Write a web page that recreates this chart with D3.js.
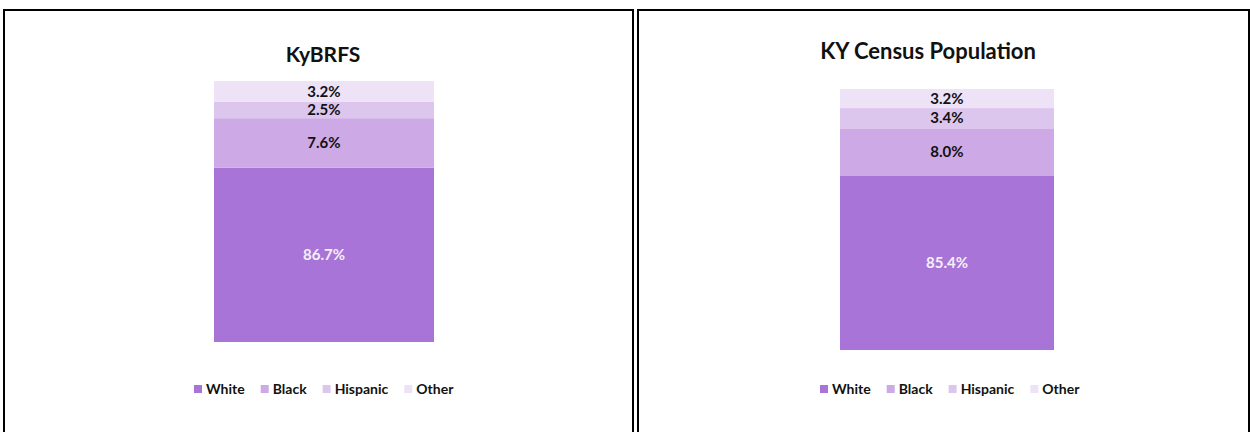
<!DOCTYPE html>
<html>
<head>
<meta charset="utf-8">
<script src="https://cdn.jsdelivr.net/npm/d3@7"></script>
<style>
  body { margin: 0; background: #fff; }
  text { font-family: Lato, "Open Sans", sans-serif; font-weight: bold; }
</style>
</head>
<body>
<div class="container"></div>
<script>
const WIDTH = 1250;
const HEIGHT = 432;

// data (stack order bottom -> top)
var categories = ["White", "Black", "Hispanic", "Other"];
var kybrfsValues = [86.7, 7.6, 2.5, 3.2];
var censusValues = [85.4, 8.0, 3.4, 3.2];
var chartTitles = ["KyBRFS", "KY Census Population"];

var colors = ["#a974d7", "#cda9e6", "#dcc6ee", "#ede2f6"];
var labelColors = ["#f4f0f8", "#111", "#111", "#111"];

var svg = d3.select(".container")
    .append("svg")
    .attr("width", WIDTH)
    .attr("height", HEIGHT);

var panels = [
    { title: chartTitles[0], values: kybrfsValues, box: [4, 10, 633, 440], titleX: 323, titleY: 62, titleSize: 21,
      bar: [214, 434], yDomain: [60, 100], yRange: [342, 81], legendX: 194 },
    { title: chartTitles[1], values: censusValues, box: [638, 10, 1249, 440], titleX: 928, titleY: 59, titleSize: 22,
      bar: [840, 1054], yDomain: [56.2, 100], yRange: [350, 89], legendX: 820 }
];

var color = d3.scaleOrdinal().domain(categories).range(colors);

var drawPanel = function(p) {
    var g = svg.append("g");

    // panel frame
    g.append("path")
        .attr("d", "M" + p.box[0] + "," + p.box[3] + "V" + p.box[1] + "H" + p.box[2] + "V" + p.box[3])
        .attr("fill", "none")
        .attr("stroke", "#000")
        .attr("stroke-width", 2);

    g.append("text")
        .attr("x", p.titleX)
        .attr("y", p.titleY)
        .attr("text-anchor", "middle")
        .attr("font-size", p.titleSize)
        .attr("fill", "#111")
        .text(p.title);

    var row = {};
    categories.forEach(function(c, i) { row[c] = p.values[i]; });
    var series = d3.stack().keys(categories)([row]);

    var x = d3.scaleBand().domain([p.title]).range(p.bar).padding(0);
    var y = d3.scaleLinear().domain(p.yDomain).range(p.yRange).clamp(true);

    g.selectAll("rect.seg")
        .data(series)
        .enter().append("rect")
        .attr("class", "seg")
        .attr("x", x(p.title))
        .attr("width", x.bandwidth())
        .attr("y", function(d) { return y(d[0][1]); })
        .attr("height", function(d) { return y(d[0][0]) - y(d[0][1]); })
        .attr("fill", function(d) { return color(d.key); });

    g.selectAll("text.lbl")
        .data(series)
        .enter().append("text")
        .attr("class", "lbl")
        .attr("x", x(p.title) + x.bandwidth() / 2)
        .attr("y", function(d) { return (y(d[0][0]) + y(d[0][1])) / 2; })
        .attr("dy", "0.35em")
        .attr("text-anchor", "middle")
        .attr("font-size", 15)
        .attr("fill", function(d, i) { return labelColors[i]; })
        .text(function(d) { return d3.format(".1f")(d[0][1] - d[0][0]) + "%"; });

    // legend
    var lg = g.append("g").attr("transform", "translate(" + p.legendX + ",389)");
    var cx = 0;
    categories.forEach(function(c) {
        lg.append("rect").attr("x", cx).attr("y", -4).attr("width", 8).attr("height", 8).attr("fill", color(c));
        var t = lg.append("text").attr("x", cx + 12).attr("y", 0).attr("dy", "0.35em")
            .attr("font-size", 14).attr("fill", "#111").text(c);
        cx += 12 + t.node().getComputedTextLength() + 16;
    });
};

panels.forEach(drawPanel);
</script>
</body>
</html>
